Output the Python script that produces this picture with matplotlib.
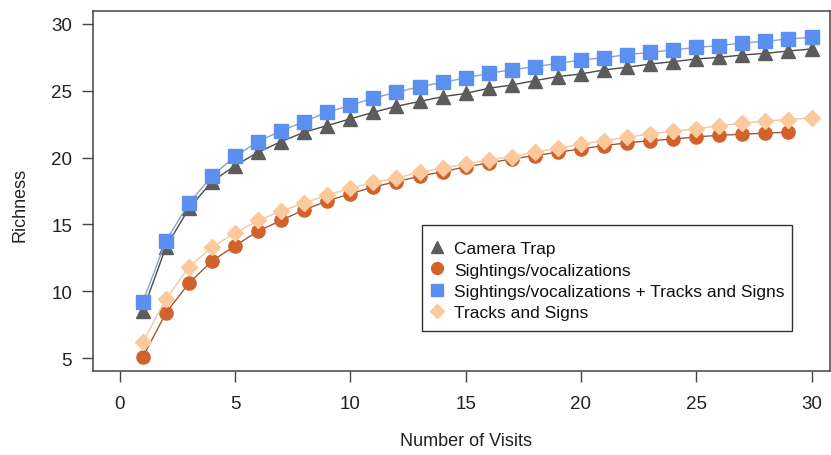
import matplotlib
matplotlib.use("Agg")
import matplotlib.pyplot as plt
from matplotlib.lines import Line2D
from matplotlib.patches import Rectangle

plt.rcParams['font.family'] = ['Liberation Sans', 'DejaVu Sans']

visits = list(range(1, 31))
visits_sv = list(range(1, 30))

camera_trap = [8.52, 13.3, 16.2, 18.2, 19.4, 20.4, 21.2, 21.9, 22.4, 22.9,
               23.39, 23.84, 24.2, 24.56, 24.8, 25.19, 25.43, 25.76, 26.06, 26.26,
               26.56, 26.76, 27.0, 27.18, 27.38, 27.5, 27.68, 27.8, 27.98, 28.13]
sightings = [5.07, 8.37, 10.6, 12.26, 13.4, 14.5, 15.3, 16.1, 16.75, 17.3,
             17.8, 18.2, 18.6, 18.95, 19.3, 19.6, 19.9, 20.15, 20.4, 20.65,
             20.9, 21.1, 21.27, 21.38, 21.55, 21.67, 21.75, 21.83, 21.9]
sight_tracks = [9.2, 13.75, 16.6, 18.6, 20.1, 21.2, 22.0, 22.7, 23.4, 23.9,
                24.46, 24.89, 25.3, 25.63, 25.96, 26.3, 26.58, 26.8, 27.05, 27.3,
                27.48, 27.7, 27.88, 28.05, 28.25, 28.38, 28.58, 28.7, 28.88, 29.0]
tracks = [6.2, 9.4, 11.8, 13.3, 14.35, 15.3, 16.0, 16.6, 17.2, 17.7,
          18.15, 18.47, 18.9, 19.2, 19.52, 19.82, 20.07, 20.4, 20.7, 21.0,
          21.27, 21.52, 21.77, 21.97, 22.14, 22.4, 22.57, 22.73, 22.85, 22.97]

labels = ["Camera Trap", "Sightings/vocalizations",
          "Sightings/vocalizations + Tracks and Signs", "Tracks and Signs"]
xticks = [0, 5, 10, 15, 20, 25, 30]
yticks = [5, 10, 15, 20, 25, 30]

c_gray = "#5c5c5c"
c_orange = "#d2622b"
c_blue = "#5b8ff0"
c_peach = "#fbc99b"

W, H = 831, 456
fig = plt.figure(figsize=(W / 100, H / 100), dpi=100)
ax = fig.add_axes([93 / W, (H - 372) / H, (830 - 93) / W, (372 - 12) / H])

ax.plot(visits, camera_trap, color="#4a4a4a", lw=1.0, marker="^", ms=9.5,
        mfc=c_gray, mec=c_gray, label=labels[0])
ax.plot(visits_sv, sightings, color="#9a5a3a", lw=1.0, marker="o", ms=9.5,
        mfc=c_orange, mec=c_orange, label=labels[1])
ax.plot(visits, sight_tracks, color="#8aa4c4", lw=1.0, marker="s", ms=9.5,
        mfc=c_blue, mec=c_blue, label=labels[2])
ax.plot(visits, tracks, color="#f0c8a0", lw=1.0, marker="D", ms=8,
        mfc=c_peach, mec=c_peach, label=labels[3])

ax.set_xlim(-1.16, 30.8)
ax.set_ylim(4.03, 30.97)
ax.set_xticks(xticks)
ax.set_yticks(yticks)
for s in ax.spines.values():
    s.set_color("#444444")
    s.set_linewidth(1.1)
ax.tick_params(axis='both', direction='out', length=8, width=1.0, color="#444444",
               labelsize=13.5, labelcolor="#222222")
ax.tick_params(axis='x', pad=9)
ax.tick_params(axis='y', pad=7)

fig.text(466 / W, 1 - 442 / H, "Number of Visits", ha="center", va="center",
         fontsize=13, color="#222222")
fig.text(20 / W, 1 - 205 / H, "Richness", ha="center", va="center",
         rotation=90, fontsize=13, color="#222222")

# legend frame
fig.patches.append(Rectangle((422 / W, 1 - 332 / H), (792 - 422) / W, (332 - 226) / H,
                             transform=fig.transFigure, facecolor="white",
                             edgecolor="#333333", lw=1.0, zorder=4))

handles = [
    Line2D([], [], ls="none", marker="^", ms=9, mfc=c_gray, mec=c_gray),
    Line2D([], [], ls="none", marker="o", ms=8.5, mfc=c_orange, mec=c_orange),
    Line2D([], [], ls="none", marker="s", ms=8.5, mfc=c_blue, mec=c_blue),
    Line2D([], [], ls="none", marker="D", ms=7.5, mfc=c_peach, mec=c_peach),
]
leg = fig.legend(handles, labels, loc="upper left",
                 bbox_to_anchor=(430 / W, 1 - 242 / H), bbox_transform=fig.transFigure,
                 fontsize=12.5, frameon=False, handlelength=0.8, handletextpad=0.6,
                 labelspacing=0.36, borderpad=0, borderaxespad=0)
leg.set_zorder(5)
for t in leg.get_texts():
    t.set_color("#111111")

fig.savefig("out.png", dpi=100)
